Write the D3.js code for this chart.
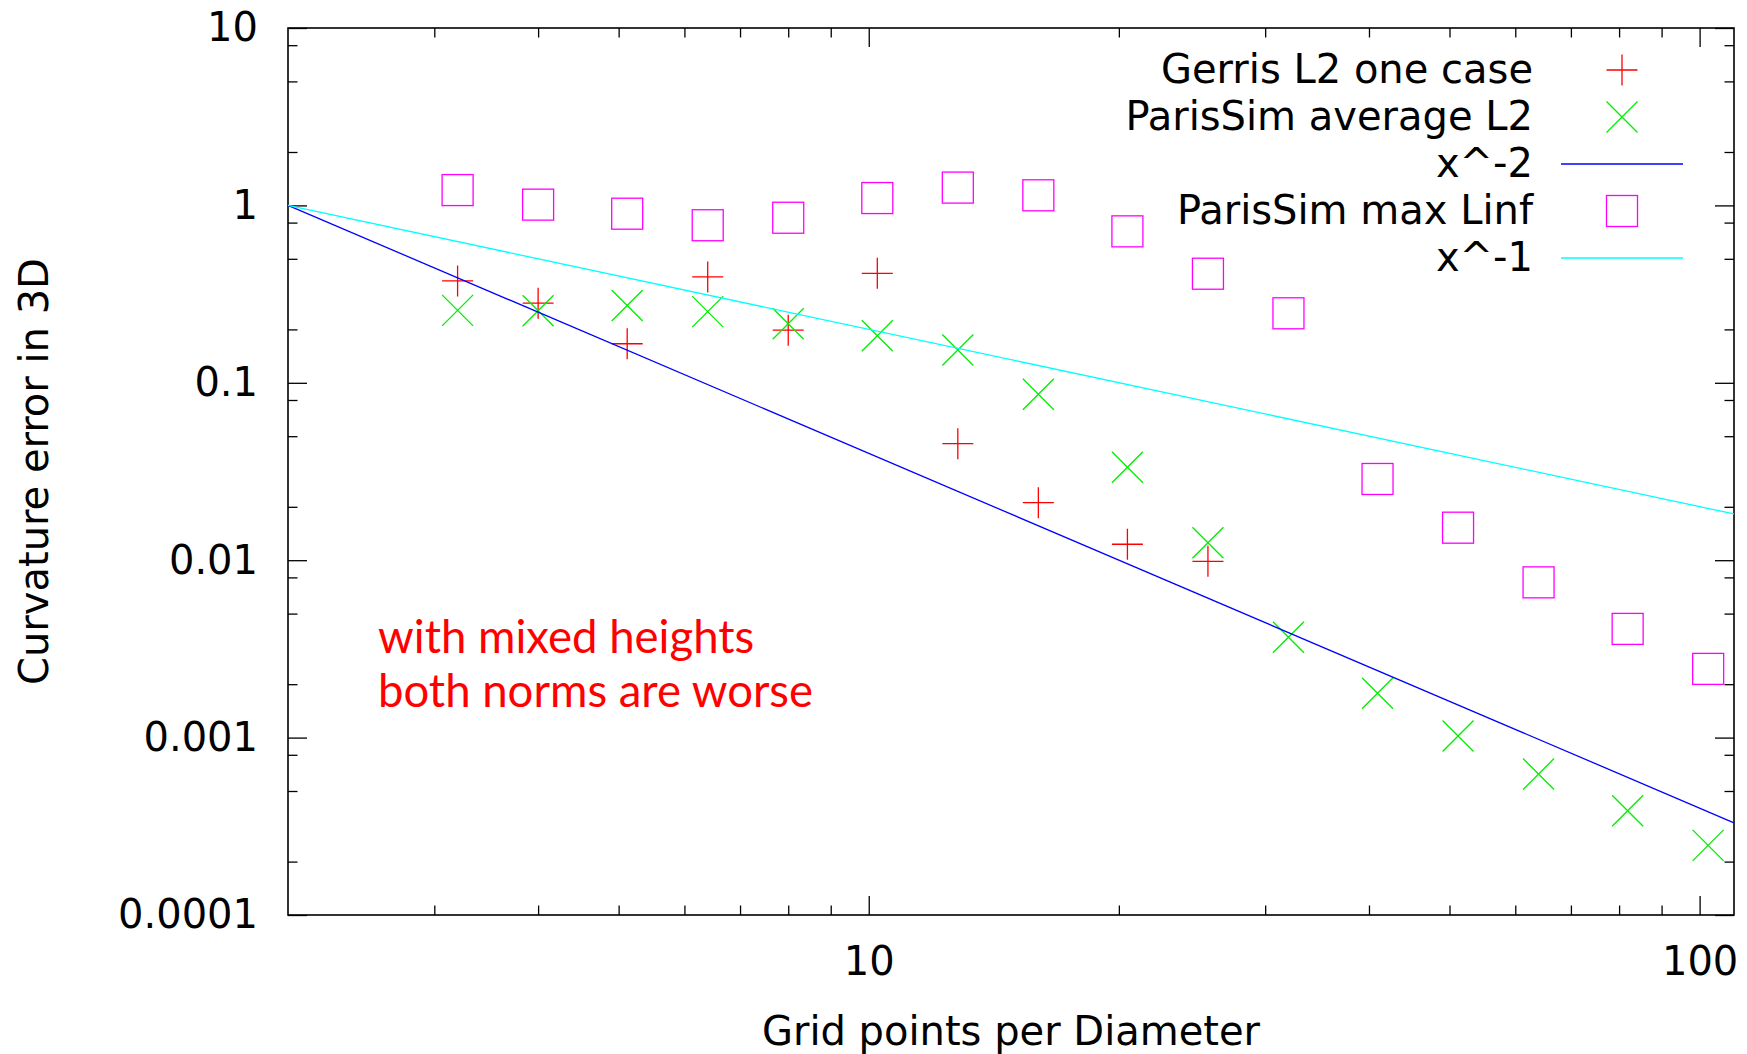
<!DOCTYPE html>
<html>
<head>
<meta charset="utf-8">
<script src="https://cdn.jsdelivr.net/npm/d3@7"></script>
<style>
  html, body { margin: 0; padding: 0; background: #ffffff; }
  svg { display: block; }
  svg text { font-family: "DejaVu Sans", sans-serif; }
  svg text.note { font-family: Lato, "Open Sans", sans-serif; }
</style>
</head>
<body>
<svg id="chart" width="1747" height="1054"></svg>
<script>
// ---------------- data ----------------
const gridPoints = [3.2, 4, 5.12, 6.4, 8, 10.24, 12.8, 16, 20.48, 25.6, 32, 40.96, 51.2, 64, 81.92, 102.4];
const gerrisL2 = [0.375, 0.281, 0.166, 0.395, 0.198, 0.414, 0.0454, 0.0211, 0.0123, 0.00986];
const parisAvgL2 = [0.256, 0.255, 0.273, 0.252, 0.215, 0.184, 0.153, 0.0861, 0.0334, 0.01255,
                    0.00368, 0.00178, 0.00102, 0.000623, 0.000387, 0.000247];
const parisMaxLinf = [1.22, 1.01, 0.898, 0.773, 0.852, 1.10, 1.26, 1.14, 0.714, 0.412,
                      0.2465, 0.0287, 0.01525, 0.0075, 0.0041, 0.00244];
const refLineX = [2, 110];
const refXm2 = [1, 0.000331];
const refXm1 = [1, 0.01822];

const xMajorTicks = [10, 100];
const xMajorLabels = ["10", "100"];
const xMinorTicks = [3, 4, 5, 6, 7, 8, 9, 20, 30, 40, 50, 60, 70, 80, 90];
const yMajorTicks = [10, 1, 0.1, 0.01, 0.001, 0.0001];
const yMajorLabels = ["10", "1", "0.1", "0.01", "0.001", "0.0001"];
const yMinorTicks = [8, 5, 2, 0.8, 0.5, 0.2, 0.08, 0.05, 0.02, 0.008, 0.005, 0.002,
                     0.0008, 0.0005, 0.0002];

const legendLabels = ["Gerris L2 one case", "ParisSim average L2", "x^-2", "ParisSim max Linf", "x^-1"];
const annotationLines = ["with mixed heights", "both norms are worse"];
const xTitle = "Grid points per Diameter";
const yTitle = "Curvature error in 3D";

// ---------------- layout ----------------
const M = { left: 288, right: 1734, top: 28, bottom: 915 };
const svg = d3.select("#chart");

const x = d3.scaleLog().domain([2, 110]).range([M.left, M.right]);
const y = d3.scaleLog().domain([0.0001, 10]).range([M.bottom, M.top]);

const colors = { red: "#ff0000", green: "#00ee00", blue: "#0000ff", magenta: "#ff00ff", cyan: "#00ffff" };
const FS = 40;
const MAJ = 19, MIN = 9.5;

function styleAxis(g) {
  g.select(".domain").remove();
  g.selectAll(".tick line").attr("stroke", "#000").attr("stroke-width", 1.3);
  g.selectAll(".tick text").attr("font-size", FS).attr("fill", "#000");
}

// bottom
svg.append("g").attr("transform", `translate(0,${M.bottom})`)
  .call(d3.axisBottom(x).tickValues(xMajorTicks).tickSize(-MAJ).tickPadding(32)
        .tickFormat((d, i) => xMajorLabels[i]))
  .call(styleAxis);
svg.append("g").attr("transform", `translate(0,${M.bottom})`)
  .call(d3.axisBottom(x).tickValues(xMinorTicks).tickSize(-MIN).tickFormat(""))
  .call(styleAxis);
// top
svg.append("g").attr("transform", `translate(0,${M.top})`)
  .call(d3.axisTop(x).tickValues(xMajorTicks).tickSize(-MAJ).tickFormat(""))
  .call(styleAxis);
svg.append("g").attr("transform", `translate(0,${M.top})`)
  .call(d3.axisTop(x).tickValues(xMinorTicks).tickSize(-MIN).tickFormat(""))
  .call(styleAxis);
// left
svg.append("g").attr("transform", `translate(${M.left},0)`)
  .call(d3.axisLeft(y).tickValues(yMajorTicks).tickSize(-MAJ).tickPadding(30)
        .tickFormat((d, i) => yMajorLabels[i]))
  .call(styleAxis);
svg.append("g").attr("transform", `translate(${M.left},0)`)
  .call(d3.axisLeft(y).tickValues(yMinorTicks).tickSize(-MIN).tickFormat(""))
  .call(styleAxis);
// right
svg.append("g").attr("transform", `translate(${M.right},0)`)
  .call(d3.axisRight(y).tickValues(yMajorTicks).tickSize(-MAJ).tickFormat(""))
  .call(styleAxis);
svg.append("g").attr("transform", `translate(${M.right},0)`)
  .call(d3.axisRight(y).tickValues(yMinorTicks).tickSize(-MIN).tickFormat(""))
  .call(styleAxis);

// frame
svg.append("rect")
  .attr("x", M.left).attr("y", M.top)
  .attr("width", M.right - M.left).attr("height", M.bottom - M.top)
  .attr("fill", "none").attr("stroke", "#000").attr("stroke-width", 1.6);

// axis titles
svg.append("text")
  .attr("x", (M.left + M.right) / 2).attr("y", 1045)
  .attr("text-anchor", "middle").attr("font-size", FS).attr("fill", "#000")
  .text(xTitle);
svg.append("text")
  .attr("transform", `translate(48,${(M.top + M.bottom) / 2}) rotate(-90)`)
  .attr("text-anchor", "middle").attr("font-size", FS).attr("fill", "#000")
  .text(yTitle);

// annotation
svg.append("g").selectAll("text").data(annotationLines).join("text")
  .attr("class", "note")
  .attr("x", 378).attr("y", (d, i) => 653 + i * 53.5)
  .attr("font-size", 45.5).attr("fill", colors.red)
  .text(d => d);

// markers
const R = 15.5;
const plusPath = `M${-R},0H${R}M0,${-R}V${R}`;
const crossPath = `M${-R},${-R}L${R},${R}M${-R},${R}L${R},${-R}`;

const plot = svg.append("g");

function drawMarkers(values, path, color, width) {
  plot.append("g").selectAll("path").data(values).join("path")
    .attr("transform", (d, i) => `translate(${x(gridPoints[i])},${y(d)})`)
    .attr("d", path).attr("fill", "none").attr("stroke", color).attr("stroke-width", width);
}
function drawSquares(values, color) {
  plot.append("g").selectAll("rect").data(values).join("rect")
    .attr("x", (d, i) => x(gridPoints[i]) - R)
    .attr("y", d => y(d) - R)
    .attr("width", 2 * R).attr("height", 2 * R)
    .attr("fill", "none").attr("stroke", color).attr("stroke-width", 1.3);
}
const lineGen = d3.line().x(d => x(d[0])).y(d => y(d[1]));
function drawRef(vals, color) {
  plot.append("path")
    .datum(refLineX.map((xv, i) => [xv, vals[i]]))
    .attr("d", lineGen).attr("fill", "none").attr("stroke", color).attr("stroke-width", 1.3);
}

drawMarkers(gerrisL2, plusPath, colors.red, 1.3);
drawMarkers(parisAvgL2, crossPath, colors.green, 1.3);
drawRef(refXm2, colors.blue);
drawSquares(parisMaxLinf, colors.magenta);
drawRef(refXm1, colors.cyan);

// legend
const legX = 1533, symX = 1622, rowY0 = 70, rowDY = 47;
const leg = svg.append("g");
leg.selectAll("text").data(legendLabels).join("text")
  .attr("x", legX).attr("y", (d, i) => rowY0 + i * rowDY)
  .attr("dy", "0.33em").attr("text-anchor", "end")
  .attr("font-size", FS).attr("fill", "#000").text(d => d);

leg.append("path").attr("transform", `translate(${symX},${rowY0})`)
  .attr("d", plusPath).attr("fill", "none").attr("stroke", colors.red).attr("stroke-width", 1.3);
leg.append("path").attr("transform", `translate(${symX},${rowY0 + rowDY})`)
  .attr("d", crossPath).attr("fill", "none").attr("stroke", colors.green).attr("stroke-width", 1.3);
leg.append("line").attr("x1", 1561).attr("x2", 1683)
  .attr("y1", rowY0 + 2 * rowDY).attr("y2", rowY0 + 2 * rowDY)
  .attr("stroke", colors.blue).attr("stroke-width", 1.3);
leg.append("rect").attr("x", symX - R).attr("y", rowY0 + 3 * rowDY - R)
  .attr("width", 2 * R).attr("height", 2 * R)
  .attr("fill", "none").attr("stroke", colors.magenta).attr("stroke-width", 1.3);
leg.append("line").attr("x1", 1561).attr("x2", 1683)
  .attr("y1", rowY0 + 4 * rowDY).attr("y2", rowY0 + 4 * rowDY)
  .attr("stroke", colors.cyan).attr("stroke-width", 1.3);
</script>
</body>
</html>
